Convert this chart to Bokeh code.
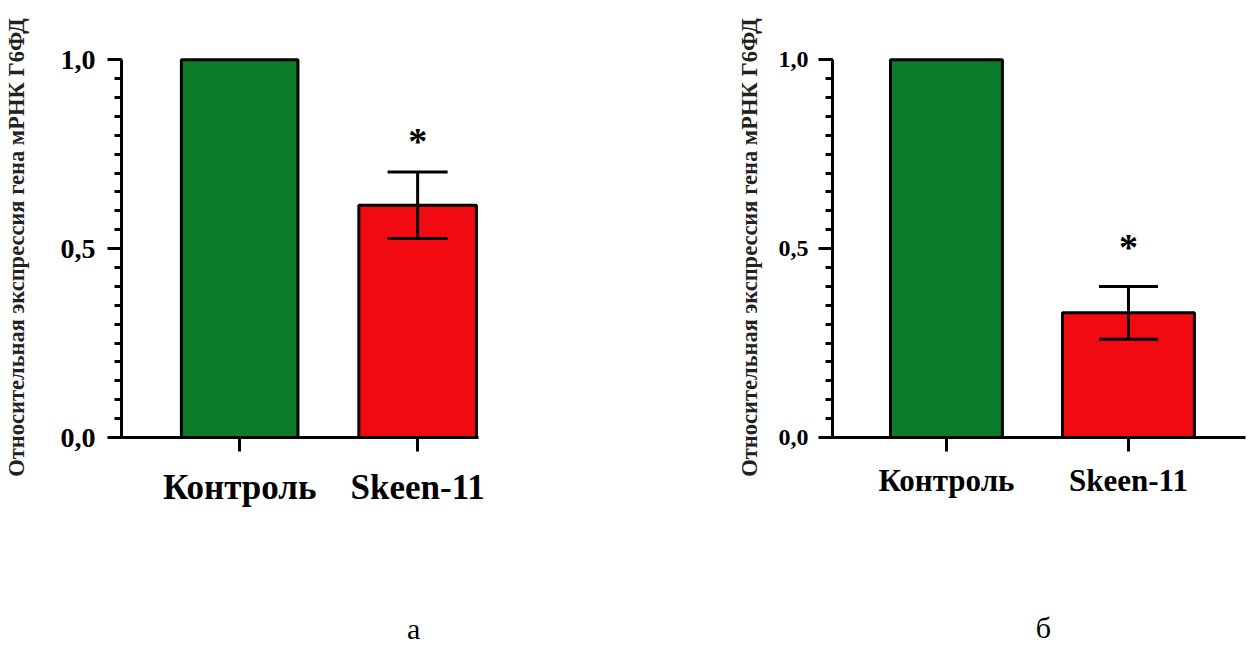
from bokeh.plotting import figure
from bokeh.models import Range1d, FixedTicker, Whisker, TeeHead, ColumnDataSource, LinearAxis
from bokeh.layouts import row
from bokeh.embed import file_html
from bokeh.resources import INLINE
from bokeh.core.properties import value

# ---- data ----
categories = ["Контроль", "Skeen-11"]
values_a = [1.0, 0.615]
errors_a = [0.0, 0.088]
values_b = [1.0, 0.33]
errors_b = [0.0, 0.07]
y_ticks = [0.0, 0.5, 1.0]
y_tick_labels = ["0,0", "0,5", "1,0"]
y_label = "Относительная экспрессия гена мРНК Г6ФД"
panel_labels = ["а", "б"]
signif = ["", "*"]

colors = ["#0A7D2B", "#F20A12"]
FONT = "Liberation Serif"


def make_panel(values, errors, caption, cfg):
    xs = [i + 1 for i in range(len(categories))]
    p = figure(width=cfg["width"], height=661, output_backend="svg", toolbar_location=None,
               x_range=Range1d(*cfg["xr"]), y_range=Range1d(0, 1.006),
               min_border_left=cfg["bl"], min_border_right=cfg["br"],
               min_border_top=cfg["bt"], min_border_bottom=cfg["bb"])
    p.outline_line_color = None
    p.xgrid.visible = False
    p.ygrid.visible = False
    p.background_fill_color = "white"
    p.border_fill_color = "white"

    for i in range(len(categories)):
        p.vbar(x=[xs[i]], top=[values[i]], bottom=0, width=cfg["bw"][i],
               fill_color=colors[i], line_color="black", line_width=3)

    ex = [xs[i] for i in range(len(xs)) if errors[i] > 0]
    up = [values[i] + errors[i] for i in range(len(xs)) if errors[i] > 0]
    lo = [values[i] - errors[i] for i in range(len(xs)) if errors[i] > 0]
    src = ColumnDataSource(dict(x=ex, upper=up, lower=lo))
    w = Whisker(source=src, base="x", upper="upper", lower="lower", line_width=3, line_color="black",
                upper_head=TeeHead(size=cfg["cap"], line_width=3, line_color="black"),
                lower_head=TeeHead(size=cfg["cap"], line_width=3, line_color="black"))
    w.level = "overlay"
    p.add_layout(w)

    sx = [xs[i] for i in range(len(xs)) if signif[i]]
    sy = [values[i] + errors[i] for i in range(len(xs)) if signif[i]]
    st = [signif[i] for i in range(len(xs)) if signif[i]]
    p.text(x=sx, y=sy, text=st, text_font=value(FONT), text_font_style="bold",
           text_font_size=cfg["star_size"], text_align="center", text_baseline="middle",
           y_offset=cfg["star_off"], text_color="black")

    # x axis
    xa = p.xaxis[0]
    xa.ticker = FixedTicker(ticks=xs)
    xa.major_label_overrides = {x: c for x, c in zip(xs, categories)}
    xa.major_label_text_font = FONT
    xa.major_label_text_font_style = "bold"
    xa.major_label_text_font_size = cfg["xl_size"]
    xa.major_label_text_color = "black"
    xa.major_label_standoff = cfg["xl_standoff"]
    xa.axis_line_width = 3
    xa.axis_line_color = "black"
    xa.major_tick_line_width = 3
    xa.major_tick_line_color = "black"
    xa.major_tick_out = 14
    xa.major_tick_in = 0
    xa.minor_tick_line_color = None

    # caption axis (panel letter)
    ca = LinearAxis(ticker=FixedTicker(ticks=[cfg["cap_x"]]),
                    major_label_overrides={cfg["cap_x"]: caption})
    ca.axis_line_color = None
    ca.major_tick_line_color = None
    ca.minor_tick_line_color = None
    ca.major_label_text_font = FONT
    ca.major_label_text_font_size = "30px"
    ca.major_label_text_color = "black"
    ca.major_label_standoff = cfg["cap_standoff"]
    p.add_layout(ca, "below")

    # y axis
    ya = p.yaxis[0]
    ya.ticker = FixedTicker(ticks=y_ticks, minor_ticks=[k * 0.05 for k in range(21)])
    ya.major_label_overrides = {t: l for t, l in zip(y_ticks, y_tick_labels)}
    ya.major_label_text_font = FONT
    ya.major_label_text_font_style = "bold"
    ya.major_label_text_font_size = cfg["yl_size"]
    ya.major_label_text_color = "black"
    ya.major_label_standoff = cfg["yl_standoff"]
    ya.bounds = (0, 1)
    ya.axis_line_width = 3
    ya.axis_line_color = "black"
    ya.major_tick_line_width = 3
    ya.major_tick_line_color = "black"
    ya.major_tick_out = 14
    ya.major_tick_in = 0
    ya.minor_tick_line_width = 3
    ya.minor_tick_line_color = "black"
    ya.minor_tick_out = 7
    ya.minor_tick_in = 0
    ya.axis_label = y_label
    ya.axis_label_text_font = FONT
    ya.axis_label_text_font_style = "bold"
    ya.axis_label_text_font_size = cfg["ylab_size"]
    ya.axis_label_text_color = "#222222"
    ya.axis_label_standoff = cfg["ylab_standoff"]
    return p


cfg_a = dict(width=600, xr=(0.336, 2.342), bl=120, br=122, bt=57, bb=223,
             bw=[0.655, 0.661], cap=60, star_size="38px", star_off=-31,
             xl_size="35px", xl_standoff=16, yl_size="28px", yl_standoff=12,
             ylab_size="22.5px", ylab_standoff=29, cap_x=1.978, cap_standoff=96)
cfg_b = dict(width=647, xr=(0.374, 2.643), bl=232, br=2, bt=49, bb=224,
             bw=[0.615, 0.725], cap=59, star_size="38px", star_off=-39,
             xl_size="31px", xl_standoff=11, yl_size="24px", yl_standoff=10,
             ylab_size="22.5px", ylab_standoff=14, cap_x=1.533, cap_standoff=104)

pa = make_panel(values_a, errors_a, panel_labels[0], cfg_a)
pb = make_panel(values_b, errors_b, panel_labels[1], cfg_b)

layout = row(pa, pb, spacing=0)
open("out.html", "w").write(file_html(layout, INLINE))
